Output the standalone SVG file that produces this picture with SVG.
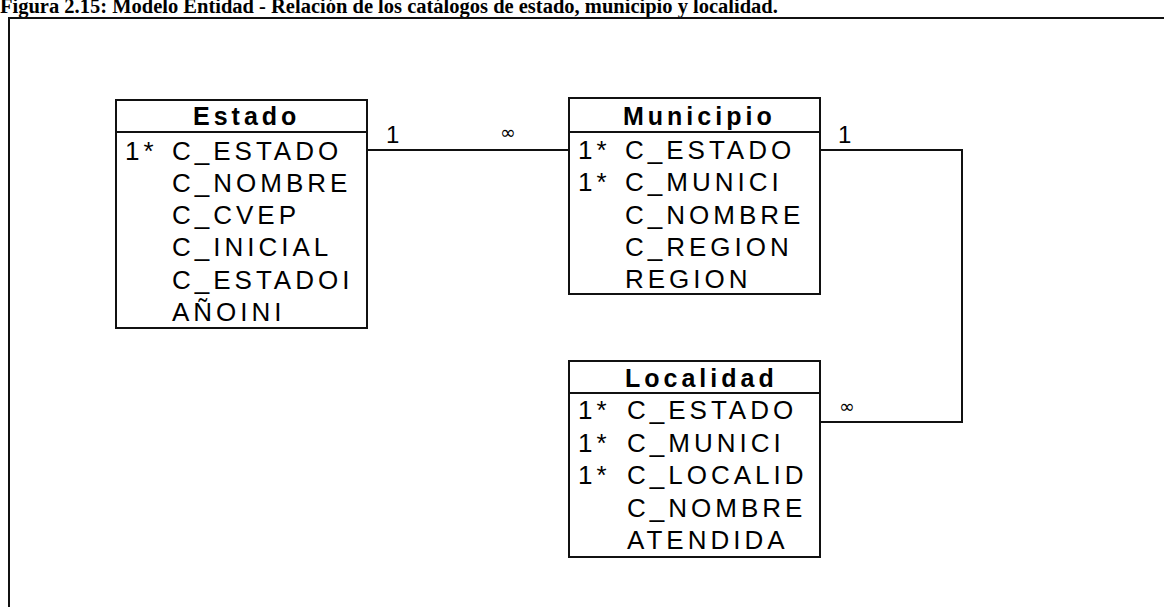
<svg xmlns="http://www.w3.org/2000/svg" width="1164" height="607" viewBox="0 0 1164 607">
<style>
.box{fill:#fff;stroke:#111;stroke-width:2}
.ln{fill:none;stroke:#111;stroke-width:2}
.ttl{font-family:"Liberation Sans",Arial,sans-serif;font-weight:bold;font-size:25px;letter-spacing:4px;fill:#000}
.fld{font-family:"Liberation Sans",Arial,sans-serif;font-size:26px;letter-spacing:4px;fill:#000}
.card{font-family:"Liberation Sans",Arial,sans-serif;font-size:24px;fill:#000}
.inf{font-family:"DejaVu Sans",sans-serif;font-size:19px;fill:#000}
.cap{font-family:"Liberation Serif","Times New Roman",serif;font-weight:bold;font-size:20.5px;fill:#000}
</style>
<rect width="1164" height="607" fill="#fff"/>
<text class="cap" x="0" y="13">Figura 2.15: Modelo Entidad - Relación de los catálogos de estado, municipio y localidad.</text>
<path class="ln" d="M9 607 V18 H1164"/>
<g id="connectors">
<path class="ln" d="M367 150 H569"/>
<path class="ln" d="M820 150 H962 V422 H820"/>
<text class="card" x="386" y="143">1</text>
<text class="inf" x="500" y="139">∞</text>
<text class="card" x="838" y="143">1</text>
<text class="inf" x="839" y="413">∞</text>
</g>
<g id="estado">
<rect class="box" x="116" y="100" width="251" height="228"/>
<line class="ln" x1="116" y1="132" x2="367" y2="132"/>
<text class="ttl" x="193" y="125">Estado</text>
<text class="fld" x="125" y="159.5">1*</text>
<text class="fld" x="172" y="159.5">C_ESTADO</text>
<text class="fld" x="172" y="191.8">C_NOMBRE</text>
<text class="fld" x="172" y="224.1">C_CVEP</text>
<text class="fld" x="172" y="256.4">C_INICIAL</text>
<text class="fld" x="172" y="288.7">C_ESTADOI</text>
<text class="fld" x="172" y="321">AÑOINI</text>
</g>
<g id="municipio">
<rect class="box" x="569" y="98" width="251" height="196"/>
<line class="ln" x1="569" y1="132" x2="820" y2="132"/>
<text class="ttl" x="623" y="125">Municipio</text>
<text class="fld" x="578" y="159">1*</text>
<text class="fld" x="625" y="159">C_ESTADO</text>
<text class="fld" x="578" y="191.3">1*</text>
<text class="fld" x="625" y="191.3">C_MUNICI</text>
<text class="fld" x="625" y="223.6">C_NOMBRE</text>
<text class="fld" x="625" y="255.9">C_REGION</text>
<text class="fld" x="625" y="288.2">REGION</text>
</g>
<g id="localidad">
<rect class="box" x="569" y="361" width="251" height="196"/>
<line class="ln" x1="569" y1="393" x2="820" y2="393"/>
<text class="ttl" x="625" y="387">Localidad</text>
<text class="fld" x="578" y="419">1*</text>
<text class="fld" x="627" y="419">C_ESTADO</text>
<text class="fld" x="578" y="451.5">1*</text>
<text class="fld" x="627" y="451.5">C_MUNICI</text>
<text class="fld" x="578" y="484">1*</text>
<text class="fld" x="627" y="484">C_LOCALID</text>
<text class="fld" x="627" y="516.5">C_NOMBRE</text>
<text class="fld" x="627" y="549">ATENDIDA</text>
</g>
</svg>
